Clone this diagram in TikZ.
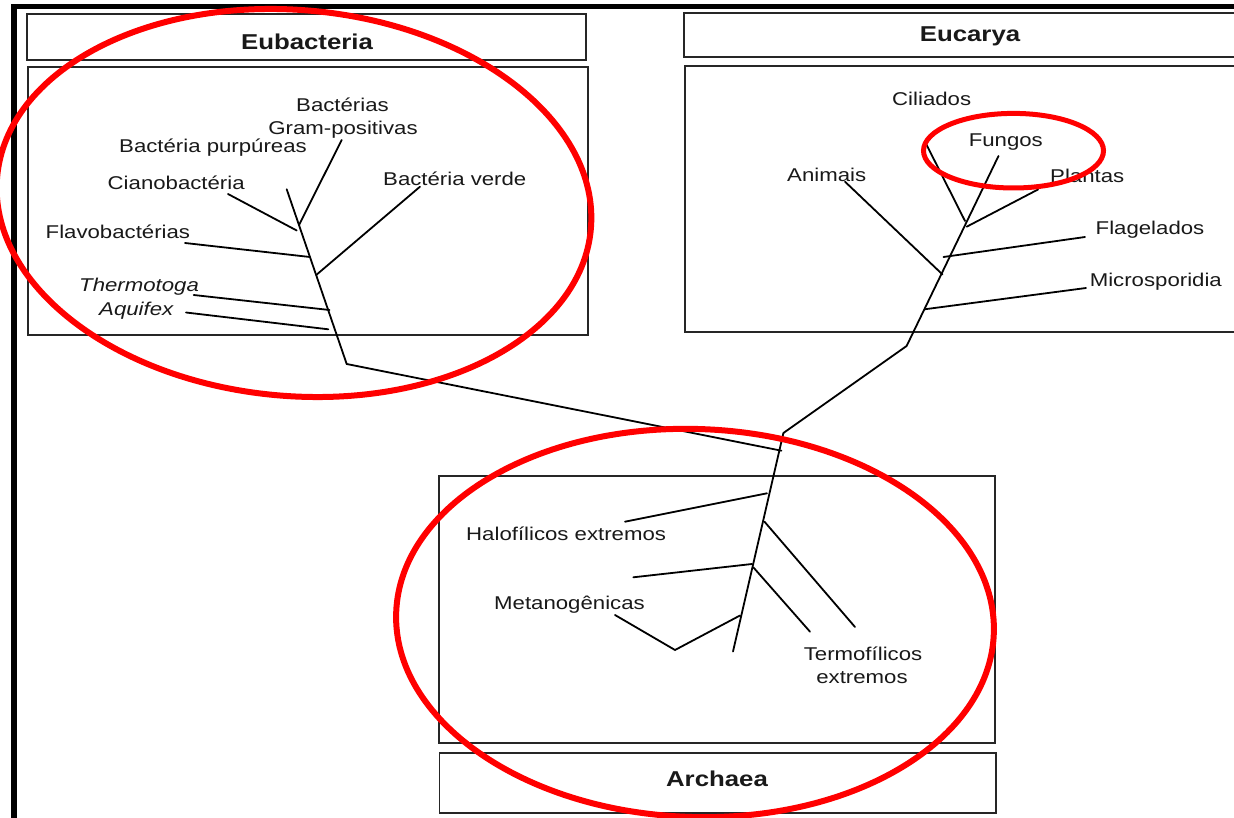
\documentclass[tikz,border=0pt]{standalone}
\usepackage{fontspec}
\setmainfont{Liberation Sans}[FakeStretch=1.2]
\begin{document}
\begin{tikzpicture}[x=1pt,y=-1pt,
  box/.style={draw=black!85,line width=1.8pt},
  frameline/.style={draw=black,line width=5.5pt,line join=miter},
  br/.style={draw=black,line width=1.8pt,line cap=round},
  lab/.style={font=\fontsize{18.5}{20}\selectfont,text=black!90,inner sep=0pt},
  ttl/.style={font=\fontsize{21.5}{23}\selectfont\bfseries,text=black!90,inner sep=0pt},
  ring/.style={draw=red,line width=6pt}
]
\useasboundingbox (0,0) rectangle (1234,818);
\clip (0,0) rectangle (1234,818);
\fill[white] (0,0) rectangle (1234,818);

% outer frame
\draw[frameline] (13.75,830) -- (13.75,6.5) -- (1240,6.5);

% boxes
\draw[box] (27,14) rectangle (586,60);
\draw[box] (28,67) rectangle (588,335);
\draw[box] (684,13) rectangle (1250,57);
\draw[box] (685,66) rectangle (1250,332);
\draw[box] (439,476) rectangle (995,743);
\draw[box] (439.5,753) rectangle (996,813);

% titles
\node[ttl,anchor=base] (teu) at (307,49.3) {Eubacteria};
\node[ttl,anchor=base] (tec) at (970,41.7) {Eucarya};
\node[ttl,anchor=base] (tar) at (717,786.7) {Archaea};

% Eubacteria labels
\node[lab,anchor=base] (lbac) at (342.5,111.7) {Bactérias};
\node[lab,anchor=base] (lgram) at (343,135) {Gram-positivas};
\node[lab,anchor=base west] (lpurp) at (119,153) {Bactéria purpúreas};
\node[lab,anchor=base west] (lciano) at (107.5,190) {Cianobactéria};
\node[lab,anchor=base west] (lflavo) at (45.5,239) {Flavobactérias};
\node[lab,anchor=base west] (lverde) at (383,186) {Bactéria verde};
\node[lab,anchor=base west,font=\fontsize{18.5}{20}\selectfont\itshape] (ltherm) at (79,292) {Thermotoga};
\node[lab,anchor=base west,font=\fontsize{18.5}{20}\selectfont\itshape] (laqui) at (99,316) {Aquifex};

% Eucarya labels
\node[lab,anchor=base west] (lcil) at (892,106) {Ciliados};
\node[lab,anchor=base west] (lfun) at (968.6,146.7) {Fungos};
\node[lab,anchor=base west] (lani) at (787,181.7) {Animais};
\node[lab,anchor=base west] (lpla) at (1050,182.7) {Plantas};
\node[lab,anchor=base west] (lfla) at (1095.5,235) {Flagelados};
\node[lab,anchor=base west] (lmic) at (1089.6,287) {Microsporidia};

% Archaea labels
\node[lab,anchor=base west] (lhalo) at (466,540) {Halofílicos extremos};
\node[lab,anchor=base west] (lmet) at (494,609.3) {Metanogênicas};
\node[lab,anchor=base] (lterm1) at (863,660) {Termofílicos};
\node[lab,anchor=base] (lterm2) at (862,683.3) {extremos};

% Eubacteria tree points
\coordinate (eTop) at (286.7,189.3);
\coordinate (eBot) at (346.7,364);
\coordinate (eGj) at (299,225);
\coordinate (eGt) at (341.7,140);
\coordinate (eCe) at (296.7,230.5);
\coordinate (eCt) at (228,194);
\coordinate (eFj) at (310,257);
\coordinate (eFt) at (185,243);
\coordinate (eVj) at (316.2,275);
\coordinate (eVt) at (420,186.7);
\coordinate (eTj) at (329.5,310);
\coordinate (eTt) at (193.7,295);
\coordinate (eAj) at (328.3,329.3);
\coordinate (eAt) at (186,312.5);
% root
\coordinate (aTop) at (783.4,433);
\coordinate (eEnd) at (781.4,450.7);
% Eucarya tree points
\coordinate (kBase) at (906.6,346);
\coordinate (kTop) at (998.5,156);
\coordinate (kMj) at (924.5,309.3);
\coordinate (kMt) at (1086,288);
\coordinate (kAj) at (942.5,274.5);
\coordinate (kAt) at (845,181.7);
\coordinate (kFj) at (943.5,257);
\coordinate (kFt) at (1085,237);
\coordinate (kCj) at (965,221);
\coordinate (kCt) at (925,141.7);
\coordinate (kPj) at (966.7,226.7);
\coordinate (kPt) at (1038,189.5);
% Archaea tree points
\coordinate (aBot) at (733,651.5);
\coordinate (aHj) at (767,493.3);
\coordinate (aHt) at (625,521.7);
\coordinate (aT1j) at (764.5,521.7);
\coordinate (aT1t) at (855,627);
\coordinate (aMj) at (752,564);
\coordinate (aMt) at (633.3,577.3);
\coordinate (aT2j) at (753.3,567.3);
\coordinate (aT2t) at (810,631.7);
\coordinate (aVj) at (740,615.5);
\coordinate (aVb) at (675,650);
\coordinate (aVt) at (615,615);

% Eubacteria branches
\draw[br] (eTop) -- (eBot) -- (eEnd);
\draw[br] (eGj) -- (eGt);
\draw[br] (eCe) -- (eCt);
\draw[br] (eFj) -- (eFt);
\draw[br] (eVj) -- (eVt);
\draw[br] (eTj) -- (eTt);
\draw[br] (eAj) -- (eAt);

% Eucarya branches
\draw[br] (aTop) -- (kBase) -- (kTop);
\draw[br] (kMj) -- (kMt);
\draw[br] (kAj) -- (kAt);
\draw[br] (kFj) -- (kFt);
\draw[br] (kCj) -- (kCt);
\draw[br] (kPj) -- (kPt);

% Archaea branches
\draw[br] (aTop) -- (aBot);
\draw[br] (aHj) -- (aHt);
\draw[br] (aT1j) -- (aT1t);
\draw[br] (aMj) -- (aMt);
\draw[br] (aT2j) -- (aT2t);
\draw[br] (aVt) -- (aVb) -- (aVj);

% red ellipses
\coordinate (r1) at (294,203);
\coordinate (r2) at (695,623);
\coordinate (r3) at (1013.5,150.7);
\draw[ring,rotate around={-5:(r1)}] (r1) ellipse [x radius=298, y radius=193];
\draw[ring,rotate around={-2:(r2)}] (r2) ellipse [x radius=299, y radius=194];
\draw[ring,line width=5pt] (r3) ellipse [x radius=90, y radius=37.3];
\end{tikzpicture}
\end{document}
